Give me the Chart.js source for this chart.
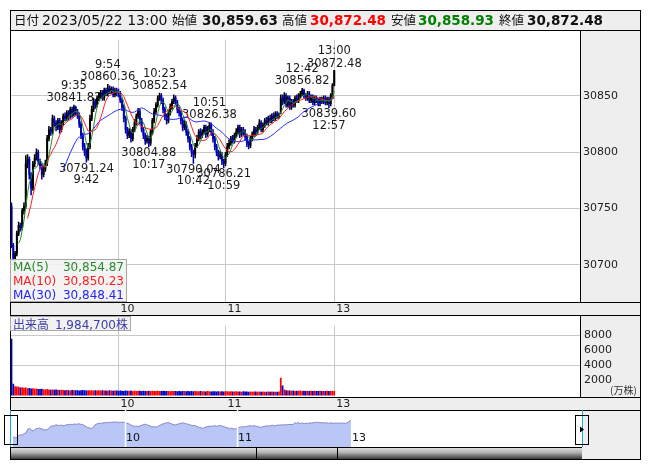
<!DOCTYPE html>
<html>
<head>
<meta charset="utf-8">
<script src="https://cdn.jsdelivr.net/npm/chart.js@4.4.1/dist/chart.umd.min.js"></script>
<style>
  body { margin: 0; background: #fff; }
  #root { position: relative; width: 653px; height: 470px; overflow: hidden; font-family: "DejaVu Sans", "Noto Sans CJK JP", sans-serif; color: #111; }
  #root div, #root canvas { position: absolute; }
  .gray { background: #eeeeee; }
  .ln { background: #000; }
  .jp { font-family: "Noto Sans CJK JP", sans-serif; font-size: 12.5px; position: absolute; }
  .num { position: absolute; font-weight: bold; font-size: 13.5px; }
</style>
</head>
<body>
<div id="root">
  <!-- panels -->
  <div class="gray" style="left:10px;top:10px;width:631px;height:20px;"></div>
  <div class="gray" style="left:580px;top:30px;width:61px;height:272px;"></div>
  <div class="gray" style="left:10px;top:302px;width:631px;height:13px;"></div>
  <div class="gray" style="left:580px;top:315px;width:61px;height:82px;"></div>
  <div class="gray" style="left:10px;top:397px;width:631px;height:13px;"></div>
  <div class="gray" style="left:582px;top:410px;width:59px;height:50px;"></div>
  <div style="left:10px;top:447px;width:572px;height:12px;background:linear-gradient(#e6e6e6,#b4b4b4 45%,#3a3a3a);"></div>

  <canvas id="main" width="630" height="285" style="left:10px;top:30px;"></canvas>
  <canvas id="vol" width="630" height="95" style="left:10px;top:315px;"></canvas>

  <!-- frame lines -->
  <div style="left:10px;top:10px;width:631px;height:450px;border:1px solid #000;box-sizing:border-box;"></div>
  <div class="ln" style="left:10px;top:30px;width:631px;height:1px;"></div>
  <div class="ln" style="left:10px;top:302px;width:631px;height:1px;"></div>
  <div class="ln" style="left:10px;top:315px;width:631px;height:1px;"></div>
  <div class="ln" style="left:10px;top:397px;width:631px;height:1px;"></div>
  <div class="ln" style="left:10px;top:410px;width:631px;height:1px;"></div>
  <div class="ln" style="left:10px;top:447px;width:572px;height:1px;"></div>
  <div class="ln" style="left:580px;top:30px;width:1px;height:272px;"></div>
  <div class="ln" style="left:580px;top:315px;width:1px;height:82px;"></div>
  <div class="ln" style="left:256px;top:447px;width:1px;height:12px;"></div>
  <div class="ln" style="left:337px;top:447px;width:1px;height:12px;"></div>

  <canvas id="nav" width="653" height="49" style="left:0;top:410px;"></canvas>

  <!-- header -->
  <div style="left:0;top:10px;width:653px;height:20px;line-height:20px;">
    <span class="jp" style="left:14px;">日付</span>
    <span style="position:absolute;left:42px;font-size:14px;">2023/05/22 13:00</span>
    <span class="jp" style="left:172px;">始値</span>
    <span class="num" style="left:202px;">30,859.63</span>
    <span class="jp" style="left:282px;">高値</span>
    <span class="num" style="left:310px;color:#ff0000;">30,872.48</span>
    <span class="jp" style="left:391px;">安値</span>
    <span class="num" style="left:418px;color:#008000;">30,858.93</span>
    <span class="jp" style="left:499px;">終値</span>
    <span class="num" style="left:527px;">30,872.48</span>
  </div>

  <!-- MA legend -->
  <div id="maBox" style="left:10px;top:259px;width:117px;height:43px;border:1px solid #a8a8a8;box-sizing:border-box;background:rgba(242,242,242,0.85);font-size:12px;"></div>

  <!-- volume label -->
  <div style="left:10px;top:316px;width:121px;height:15px;border:1px solid #a8a8a8;box-sizing:border-box;background:#f2f2f2;color:#3c3ca8;line-height:13px;">
    <span class="jp" style="left:2px;top:0;font-size:12px;line-height:13px;">出来高</span>
    <span style="position:absolute;right:2px;top:0;font-size:12px;">1,984,700<span style="font-family:'Noto Sans CJK JP';">株</span></span>
  </div>
  <div class="jp" style="left:610px;top:384px;font-size:10px;line-height:12px;color:#333;">(万株)</div>
</div>

<script>
// 1分足 9:00-11:30, 12:30-13:00
const opens = [
  30752,30717,30706,30710,30728,30735,30733,30748,30752,30790,
  30794,30780,30768,30790,30795,30800,30792,30788,30780,30785,
  30790,30812,30820,30818,30830,30826,30822,30828,30820,30826,
  30832,30830,30835,30832,30838,30834,30840,30836,30833,30825,
  30815,30805,30800,30795,30805,30830,30838,30845,30842,30848,
  30850,30853,30848,30855,30852,30857,30854,30856,30851,30855,
  30853,30852,30846,30840,30830,30820,30815,30818,30812,30820,
  30826,30832,30836,30828,30820,30815,30810,30812,30808,30818,
  30828,30836,30842,30848,30850,30846,30838,30832,30828,30835,
  30840,30845,30848,30844,30838,30835,30828,30822,30825,30818,
  30812,30805,30800,30798,30806,30812,30818,30815,30818,30822,
  30816,30820,30824,30818,30812,30805,30800,30796,30798,30792,
  30790,30798,30805,30808,30812,30810,30815,30818,30822,30816,
  30820,30818,30814,30808,30806,30812,30816,30820,30818,30822,
  30826,30820,30824,30828,30826,30830,30828,30832,30830,30834,
  30832,30836,30848,30845,30850,30842,30848,30840,30845,30842,
  30848,30846,30850,30852,30855,30850,30848,30852,30846,30849,
  30844,30848,30846,30843,30847,30845,30848,30844,30847,30843,
  30850,30859.63
];
const highs = [
  30755,30719,30712,30730,30738,30737,30750,30755,30797,30798,
  30796,30782,30792,30798,30803,30802,30794,30790,30788,30793,
  30815,30823,30822,30833,30832,30828,30830,30830,30828,30834,
  30835,30837,30837,30840,30840,30841.82,30841,30838,30835,30827,
  30817,30808,30803,30808,30833,30841,30848,30847,30850,30853,
  30855,30855,30857,30857,30860.36,30859,30858,30858,30857,30857,
  30856,30854,30848,30842,30832,30822,30821,30820,30822,30829,
  30834,30839,30838,30830,30822,30817,30815,30814,30820,30830,
  30839,30844,30850,30852.54,30852,30848,30840,30834,30837,30843,
  30847,30851,30850,30846,30840,30837,30830,30828,30827,30820,
  30814,30807,30802,30808,30815,30820,30821,30820,30824,30824,
  30823,30826.38,30826,30820,30814,30807,30802,30801,30800,30794,
  30800,30808,30811,30814,30815,30817,30821,30824,30824,30822,
  30822,30820,30816,30810,30814,30818,30823,30822,30824,30829,
  30828,30826,30830,30831,30832,30833,30834,30835,30836,30836,
  30835,30851,30851,30853,30852,30850,30850,30847,30847,30850,
  30851,30852,30854,30856.82,30856,30852,30854,30854,30851,30851,
  30850,30850,30848,30849,30849,30850,30850,30849,30849,30852,
  30861,30872.48
];
const lows = [
  30715,30703,30704,30708,30726,30730,30731,30745,30750,30786,
  30776,30762,30766,30787,30793,30789,30785,30776,30778,30783,
  30788,30810,30815,30816,30823,30819,30820,30817,30818,30824,
  30828,30828,30829,30830,30831,30832,30833,30830,30822,30812,
  30802,30797,30791.24,30793,30803,30828,30836,30839,30840,30846,
  30848,30846,30846,30850,30850,30852,30852,30849,30849,30850,
  30849,30844,30837,30827,30817,30812,30813,30809,30810,30818,
  30824,30830,30825,30818,30812,30807,30808,30804.88,30806,30816,
  30826,30834,30840,30846,30843,30835,30829,30825,30826,30833,
  30838,30843,30842,30835,30832,30825,30819,30820,30815,30809,
  30802,30796,30790.04,30795,30804,30810,30812,30813,30816,30813,
  30814,30818,30815,30809,30802,30797,30793,30794,30789,30786.21,
  30788,30796,30803,30806,30808,30808,30813,30816,30813,30814,
  30815,30811,30805,30803,30804,30810,30814,30815,30816,30820,
  30818,30818,30822,30824,30824,30826,30826,30828,30828,30830,
  30830,30834,30842,30843,30840,30840,30838,30838,30840,30840,
  30844,30844,30848,30850,30848,30846,30846,30844,30844,30842,
  30842,30844,30841,30841,30843,30843,30842,30842,30839.60,30841,
  30848,30858.93
];
const closes = [
  30717,30706,30710,30728,30735,30733,30748,30752,30790,30794,
  30780,30768,30790,30795,30800,30792,30788,30780,30785,30790,
  30812,30820,30818,30830,30826,30822,30828,30820,30826,30832,
  30830,30835,30832,30838,30834,30840,30836,30833,30825,30815,
  30805,30800,30795,30805,30830,30838,30845,30842,30848,30850,
  30853,30848,30855,30852,30857,30854,30856,30851,30855,30853,
  30852,30846,30840,30830,30820,30815,30818,30812,30820,30826,
  30832,30836,30828,30820,30815,30810,30812,30808,30818,30828,
  30836,30842,30848,30850,30846,30838,30832,30828,30835,30840,
  30845,30848,30844,30838,30835,30828,30822,30825,30818,30812,
  30805,30800,30798,30806,30812,30818,30815,30818,30822,30816,
  30820,30824,30818,30812,30805,30800,30796,30798,30792,30790,
  30798,30805,30808,30812,30810,30815,30818,30822,30816,30820,
  30818,30814,30808,30806,30812,30816,30820,30818,30822,30826,
  30820,30824,30828,30826,30830,30828,30832,30830,30834,30832,
  30833,30848,30845,30850,30842,30848,30840,30845,30842,30848,
  30846,30850,30852,30855,30850,30848,30852,30846,30849,30844,
  30848,30846,30843,30847,30845,30848,30844,30847,30843,30850,
  30859.63,30872.48
];
// 出来高 (万株)
const volumes = [
  7500,1500,1150,1120,1080,1000,1020,950,980,900,
  920,870,880,820,850,800,780,820,760,740,
  780,720,700,740,690,710,680,660,700,650,
  620,660,640,600,650,630,610,640,600,620,
  650,610,590,630,600,620,580,640,600,610,
  590,620,580,600,570,610,590,560,600,580,
  560,600,570,540,590,560,550,580,540,560,
  530,570,550,520,560,540,530,560,520,550,
  540,510,560,530,520,550,510,540,520,500,
  530,510,540,500,520,490,530,510,500,520,
  490,510,480,520,500,490,510,480,500,470,
  510,490,470,500,480,460,500,470,490,460,
  480,500,460,490,470,450,480,460,470,440,
  480,450,470,440,460,430,470,450,440,460,
  430,450,440,420,460,430,450,420,440,430,
  470,2300,1250,720,620,580,600,560,590,540,
  570,550,580,540,560,530,570,540,550,520,
  560,540,530,550,520,540,510,550,530,520,
  560,540
];

const hourTicks = [60, 120, 181];
const hourLabels = ['10', '11', '13'];
const priceTicks = [30700, 30750, 30800, 30850];
const volTicks = [2000, 4000, 6000, 8000];
const volGridLines = [4000, 8000];
const navGaps = [60, 120];

// 高値・安値の注記
const highMarks = [35, 54, 83, 111, 163, 181];
const lowMarks = [42, 77, 102, 119, 178];

const maPeriods = [5, 10, 30];
const maColors = ['#2a8a2a', '#ff1c1c', '#2424ff'];
const maValueLabels = ['30,854.87', '30,850.23', '30,848.41'];

// 時刻ラベル
const times = [];
function addSession(from, to) {
  for (let m = from; m <= to; m++) {
    times.push(Math.floor(m / 60) + ':' + String(m % 60).padStart(2, '0'));
  }
}
addSession(9 * 60, 11 * 60 + 30);
addSession(12 * 60 + 30, 13 * 60);

const UP = '#000000', DOWN = '#0000b4';
const candleColors = closes.map((c, i) => (c >= opens[i] ? UP : DOWN));
const volColors = closes.map((c, i) => (c >= opens[i] ? '#ff0000' : '#0000c0'));
const gridColor = '#c8c8c8';
const FONT = 'DejaVu Sans';

function movingAverage(n) {
  const out = [];
  for (let i = n - 1; i < closes.length; i++) {
    let s = 0;
    for (let k = i - n + 1; k <= i; k++) s += closes[k];
    out.push({ x: i, y: s / n });
  }
  return out;
}

// legend box
const maBox = document.getElementById('maBox');
maPeriods.forEach((p, k) => {
  const row = document.createElement('div');
  row.style.cssText = `left:2px;right:2px;top:${k * 14}px;height:14px;line-height:14px;color:${maColors[k]};`;
  row.innerHTML = `<span style="position:absolute;left:0">MA(${p})</span><span style="position:absolute;right:0">${maValueLabels[k]}</span>`;
  maBox.appendChild(row);
});

const annotate = {
  id: 'annotate',
  beforeDatasetsDraw(chart) {
    const { ctx, scales: { x, y } } = chart;
    ctx.save();
    ctx.font = `11.5px "${FONT}"`;
    ctx.fillStyle = '#1a1a1a';
    ctx.textAlign = 'center';
    ctx.textBaseline = 'middle';
    highMarks.forEach(i => {
      const px = x.getPixelForValue(i), py = y.getPixelForValue(highs[i]);
      ctx.fillText(highs[i].toFixed(2), px, py - 7);
      ctx.fillText(times[i], px, py - 19.5);
    });
    lowMarks.forEach(i => {
      const px = x.getPixelForValue(i), py = y.getPixelForValue(lows[i]);
      ctx.fillText(lows[i].toFixed(2), px, py + 6.5);
      ctx.fillText(times[i], px, py + 18);
    });
    ctx.restore();
  }
};

function timeAxis() {
  return {
    type: 'linear', min: -0.84, max: 318.8, offset: false,
    grid: { color: gridColor, drawTicks: false, offset: false },
    border: { display: false },
    afterBuildTicks: s => { s.ticks = hourTicks.map(v => ({ value: v })); },
    afterFit: s => { s.height = 13; },
    ticks: {
      autoSkip: false, maxRotation: 0, align: 'start', padding: 1, labelOffset: 2,
      color: '#222', font: { family: FONT, size: 11 },
      callback: v => hourLabels[hourTicks.indexOf(v)]
    }
  };
}

const idx = closes.map((c, i) => i);

new Chart(document.getElementById('main'), {
  type: 'bar',
  data: {
    datasets: [
      ...maPeriods.map((p, k) => ({
        type: 'line', label: 'MA(' + p + ')', data: movingAverage(p),
        borderColor: maColors[k], borderWidth: 1, pointRadius: 0, order: 0
      })),
      {
        label: 'wick', data: idx.map(i => ({ x: i, y: [lows[i], highs[i]] })),
        backgroundColor: candleColors, barThickness: 0.9, grouped: false, order: 2
      },
      {
        label: 'body', data: idx.map(i => ({ x: i, y: [Math.min(opens[i], closes[i]), Math.max(opens[i], closes[i])] })),
        backgroundColor: candleColors, barThickness: 1.3, grouped: false, minBarLength: 1, order: 1
      }
    ]
  },
  options: {
    responsive: false, animation: false, devicePixelRatio: 1,
    layout: { padding: 0 },
    plugins: { legend: { display: false }, tooltip: { enabled: false } },
    scales: {
      x: timeAxis(),
      y: {
        position: 'right', min: 30667, max: 30900,
        grid: { color: gridColor, drawTicks: false },
        border: { display: false },
        afterBuildTicks: s => { s.ticks = priceTicks.map(v => ({ value: v })); },
        afterFit: s => { s.width = 60; },
        ticks: { padding: 3, color: '#222', font: { family: FONT, size: 11 }, callback: v => String(v) }
      }
    }
  },
  plugins: [annotate]
});

new Chart(document.getElementById('vol'), {
  type: 'bar',
  data: {
    datasets: [{
      data: idx.map(i => ({ x: i, y: volumes[i] })),
      backgroundColor: volColors, barThickness: 1.1
    }]
  },
  options: {
    responsive: false, animation: false, devicePixelRatio: 1,
    layout: { padding: 0 },
    plugins: { legend: { display: false }, tooltip: { enabled: false } },
    scales: {
      x: timeAxis(),
      y: {
        position: 'right', min: -230, max: 9280,
        grid: { color: c => (volGridLines.includes(c.tick && c.tick.value) ? gridColor : 'rgba(0,0,0,0)'), drawTicks: false },
        border: { display: false },
        afterBuildTicks: s => { s.ticks = volTicks.map(v => ({ value: v })); },
        afterFit: s => { s.width = 60; },
        ticks: { padding: 4, color: '#222', font: { family: FONT, size: 11 }, callback: v => String(v) }
      }
    }
  }
});

const navDecor = {
  id: 'navDecor',
  afterDatasetsDraw(chart) {
    const { ctx, chartArea: a, scales: { x } } = chart;
    ctx.save();
    ctx.strokeStyle = '#ffffff';
    ctx.lineWidth = 1.5;
    navGaps.forEach(v => {
      const px = Math.round(x.getPixelForValue(v)) + 0.5;
      ctx.beginPath(); ctx.moveTo(px, a.top); ctx.lineTo(px, a.bottom); ctx.stroke();
    });
    ctx.fillStyle = '#111';
    ctx.font = `11px "${FONT}"`;
    ctx.textAlign = 'left';
    ctx.textBaseline = 'middle';
    hourTicks.forEach((v, k) => ctx.fillText(hourLabels[k], x.getPixelForValue(v) + 1, 28));
    // selection edges
    ctx.strokeStyle = '#1ea6e0';
    ctx.lineWidth = 1;
    [a.left + 0.5, a.right + 0.5].forEach(px => {
      ctx.beginPath(); ctx.moveTo(px, 0); ctx.lineTo(px, a.bottom); ctx.stroke();
    });
    ctx.strokeStyle = '#000';
    ctx.strokeRect(a.left - 5.5, 5.5, 13, 29);
    ctx.strokeRect(a.right - 6.5, 5.5, 13, 29);
    ctx.fillStyle = '#000';
    ctx.beginPath();
    ctx.moveTo(a.right - 2, 16.5); ctx.lineTo(a.right + 2, 19.5); ctx.lineTo(a.right - 2, 22.5);
    ctx.closePath(); ctx.fill();
    ctx.restore();
  }
};

new Chart(document.getElementById('nav'), {
  type: 'line',
  data: {
    datasets: [{
      data: idx.map(i => ({ x: i, y: closes[i] })),
      fill: 'start', backgroundColor: '#b9c6f6', borderColor: '#8585c8',
      borderWidth: 1, pointRadius: 0
    }]
  },
  options: {
    responsive: false, animation: false, devicePixelRatio: 1,
    layout: { padding: { left: 10, right: 71, top: 0, bottom: 12 } },
    plugins: { legend: { display: false }, tooltip: { enabled: false } },
    scales: {
      x: { type: 'linear', display: false, min: -1.6, max: 304.8 },
      y: { display: false, min: 30620, max: 30970 }
    }
  },
  plugins: [navDecor]
});
</script>
</body>
</html>
